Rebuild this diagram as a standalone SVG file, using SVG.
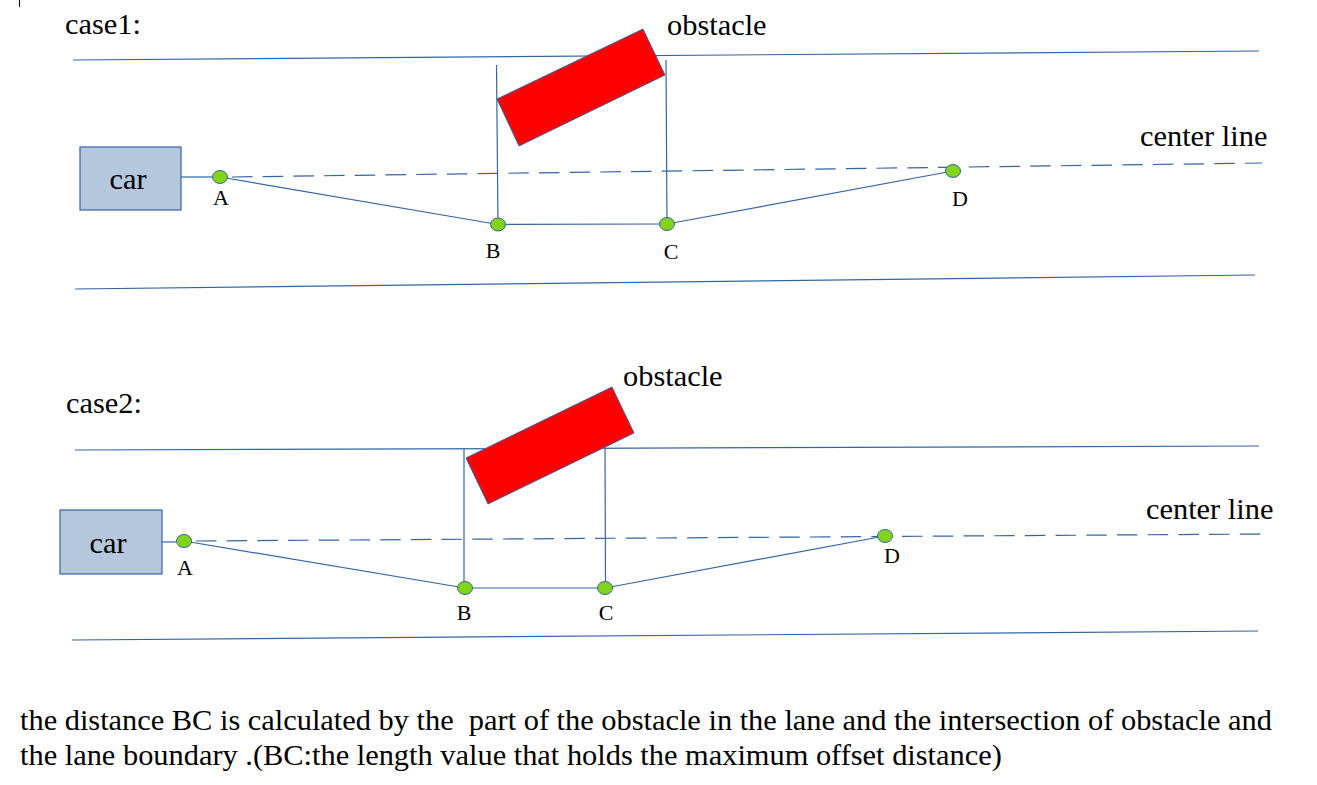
<svg xmlns="http://www.w3.org/2000/svg" width="1317" height="785" viewBox="0 0 1317 785">
<style>
  text { font-family: "Liberation Serif", "Times New Roman", serif; fill: #000; }
  .lbl { font-size: 30.4px; }
  .pt { font-size: 22px; text-anchor: middle; }
  .ln { stroke: #3465a4; stroke-width: 1.2; fill: none; }
  .dash { stroke: #3465a4; stroke-width: 1.2; fill: none; stroke-dasharray: 20.5 10.2; }
  .car { fill: #b4c7dc; stroke: #3465a4; stroke-width: 1.2; }
  .obs { fill: #ff0000; stroke: #3465a4; stroke-width: 1; }
  .node { fill: #81d41a; stroke: #3465a4; stroke-width: 1; }
</style>
<rect width="1317" height="785" fill="#ffffff"/>
<line x1="19.5" y1="0" x2="19.5" y2="7" stroke="#000" stroke-width="1"/>

<!-- case 1 -->
<g id="case1-lanes">
  <line class="ln" x1="73" y1="60" x2="1259" y2="51"/>
  <line class="ln" x1="75" y1="289" x2="1255" y2="275"/>
</g>
<g id="case1-connectors">
  <line class="ln" x1="181" y1="177" x2="212" y2="177"/>
  <line class="dash" x1="232" y1="177" x2="1262" y2="163"/>
  <line class="ln" x1="220" y1="177" x2="498" y2="224.5"/>
  <line class="ln" x1="498" y1="224.5" x2="667" y2="224"/>
  <line class="ln" x1="667" y1="224" x2="953" y2="171"/>
  <line class="ln" x1="496.5" y1="65" x2="498" y2="224.5"/>
  <line class="ln" x1="666" y1="60" x2="667" y2="224"/>
</g>
<g id="case1-car">
  <rect class="car" x="80" y="147" width="101" height="63"/>
  <text class="lbl" x="128" y="189" text-anchor="middle">car</text>
</g>
<g id="case1-obstacle">
  <polygon class="obs" points="497,99 643,29 665,75 519,146"/>
  <text class="lbl" x="667" y="35">obstacle</text>
</g>
<g id="case1-A"><ellipse class="node" cx="220" cy="177" rx="7.5" ry="6.5"/><text class="pt" x="221" y="205">A</text></g>
<g id="case1-B"><ellipse class="node" cx="498" cy="224.5" rx="7.5" ry="6.5"/><text class="pt" x="493" y="258">B</text></g>
<g id="case1-C"><ellipse class="node" cx="667" cy="224" rx="7.5" ry="6.5"/><text class="pt" x="671" y="259">C</text></g>
<g id="case1-D"><ellipse class="node" cx="953" cy="171" rx="7.5" ry="6.5"/><text class="pt" x="960" y="206">D</text></g>
<text class="lbl" x="65" y="34">case1:</text>
<text class="lbl" x="1140" y="146">center line</text>

<!-- case 2 -->
<g id="case2-lanes">
  <line class="ln" x1="75" y1="450" x2="1259" y2="446"/>
  <line class="ln" x1="72" y1="640" x2="1258" y2="631"/>
</g>
<g id="case2-connectors">
  <line class="ln" x1="162" y1="542" x2="176" y2="542"/>
  <line class="dash" x1="196" y1="541" x2="1265" y2="534"/>
  <line class="ln" x1="184" y1="541" x2="465" y2="588"/>
  <line class="ln" x1="465" y1="588" x2="605" y2="588"/>
  <line class="ln" x1="605" y1="588" x2="885" y2="536"/>
  <line class="ln" x1="464" y1="449" x2="464" y2="588"/>
  <line class="ln" x1="605" y1="447" x2="605.5" y2="588"/>
</g>
<g id="case2-car">
  <rect class="car" x="60" y="510" width="102" height="64"/>
  <text class="lbl" x="108" y="553" text-anchor="middle">car</text>
</g>
<g id="case2-obstacle">
  <polygon class="obs" points="466,458 612,387 634,433 488,504"/>
  <text class="lbl" x="623" y="386">obstacle</text>
</g>
<g id="case2-A"><ellipse class="node" cx="184" cy="541" rx="7.5" ry="6.5"/><text class="pt" x="185" y="575">A</text></g>
<g id="case2-B"><ellipse class="node" cx="465" cy="588" rx="7.5" ry="6.5"/><text class="pt" x="464" y="620">B</text></g>
<g id="case2-C"><ellipse class="node" cx="605" cy="588" rx="7.5" ry="6.5"/><text class="pt" x="606" y="620">C</text></g>
<g id="case2-D"><ellipse class="node" cx="885" cy="536" rx="7.5" ry="6.5"/><text class="pt" x="892" y="563">D</text></g>
<text class="lbl" x="66" y="413">case2:</text>
<text class="lbl" x="1146" y="519">center line</text>

<!-- caption -->
<text class="lbl" x="20" y="730" xml:space="preserve" style="white-space:pre" textLength="1252" lengthAdjust="spacing">the distance BC is calculated by the  part of the obstacle in the lane and the intersection of obstacle and</text>
<text class="lbl" x="20" y="765">the lane boundary .(BC:the length value that holds the maximum offset distance)</text>
</svg>
